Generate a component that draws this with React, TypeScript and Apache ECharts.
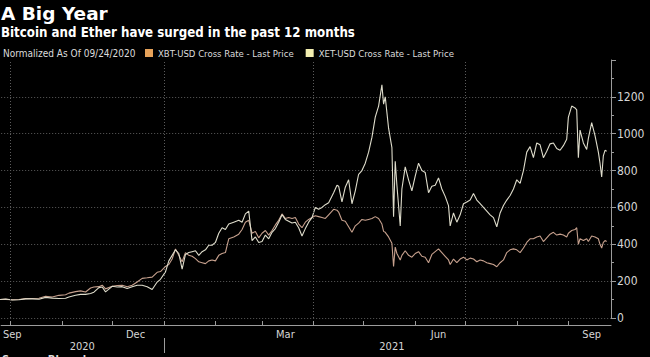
import React, { useEffect, useRef } from "react";
import * as echarts from "echarts";

const dates = [
  "2020-09-24","2020-09-28","2020-10-02","2020-10-06","2020-10-10","2020-10-14","2020-10-18","2020-10-22","2020-10-26","2020-10-30",
  "2020-11-03","2020-11-05","2020-11-09","2020-11-12","2020-11-15","2020-11-18","2020-11-20","2020-11-23","2020-11-25","2020-11-27",
  "2020-12-01","2020-12-04","2020-12-07","2020-12-10","2020-12-13","2020-12-16","2020-12-19","2020-12-22","2020-12-25","2020-12-28",
  "2020-12-30","2021-01-02","2021-01-04","2021-01-06","2021-01-08","2021-01-10","2021-01-12","2021-01-14","2021-01-16","2021-01-18",
  "2021-01-20","2021-01-22","2021-01-24","2021-01-26","2021-01-28","2021-01-30","2021-02-01","2021-02-03","2021-02-05","2021-02-07",
  "2021-02-09","2021-02-12","2021-02-15","2021-02-17","2021-02-19","2021-02-21","2021-02-23","2021-02-25","2021-02-27","2021-03-01",
  "2021-03-03","2021-03-05","2021-03-07","2021-03-09","2021-03-11","2021-03-13","2021-03-15","2021-03-17","2021-03-19","2021-03-21",
  "2021-03-23","2021-03-25","2021-03-27","2021-03-29","2021-03-31","2021-04-02","2021-04-04","2021-04-06","2021-04-08","2021-04-10",
  "2021-04-13","2021-04-15","2021-04-16","2021-04-18","2021-04-20","2021-04-22","2021-04-24","2021-04-26","2021-04-28","2021-04-30",
  "2021-05-02","2021-05-04","2021-05-06","2021-05-08","2021-05-10","2021-05-12","2021-05-13","2021-05-14","2021-05-16","2021-05-18",
  "2021-05-19","2021-05-20","2021-05-21","2021-05-23","2021-05-24","2021-05-26","2021-05-28","2021-05-30","2021-06-01","2021-06-03",
  "2021-06-05","2021-06-07","2021-06-09","2021-06-11","2021-06-13","2021-06-15","2021-06-17","2021-06-19","2021-06-21","2021-06-22",
  "2021-06-24","2021-06-26","2021-06-28","2021-06-30","2021-07-02","2021-07-04","2021-07-06","2021-07-08","2021-07-10","2021-07-12",
  "2021-07-14","2021-07-16","2021-07-18","2021-07-20","2021-07-22","2021-07-24","2021-07-26","2021-07-28","2021-07-30","2021-08-01",
  "2021-08-03","2021-08-05","2021-08-07","2021-08-09","2021-08-11","2021-08-13","2021-08-15","2021-08-17","2021-08-19","2021-08-21",
  "2021-08-23","2021-08-25","2021-08-27","2021-08-29","2021-08-31","2021-09-01","2021-09-03","2021-09-05","2021-09-06","2021-09-07",
  "2021-09-08","2021-09-10","2021-09-12","2021-09-13","2021-09-15","2021-09-17","2021-09-19","2021-09-20","2021-09-21","2021-09-22",
  "2021-09-23","2021-09-24",
];

// XBT-USD (Bitcoin), normalized to 100 on 09/24/2020
const xbt = [
  100,101,99,100,105,106,107,118,114,123,
  126,135,143,147,141,163,168,170,178,158,
  172,176,178,170,178,195,215,218,222,248,
  252,280,290,320,375,340,305,355,340,335,
  322,305,300,295,310,315,310,340,350,355,
  430,440,455,480,520,530,460,470,435,460,
  475,450,475,505,530,565,540,545,540,545,
  510,490,520,535,545,555,550,545,540,560,
  590,585,575,530,525,495,465,500,515,535,
  530,535,540,550,540,510,470,465,440,405,
  280,385,350,315,340,365,340,330,350,360,
  335,330,300,345,360,375,355,335,315,290,
  320,300,320,330,315,325,320,305,315,310,
  300,295,290,278,300,315,355,370,375,370,
  355,380,410,430,430,440,445,415,435,455,
  465,450,455,450,440,460,475,480,490,400,
  430,420,430,415,445,440,430,400,380,410,
  420,415,
];

// XET-USD (Ether), normalized to 100 on 09/24/2020
const xet = [
  100,103,98,99,104,104,102,112,108,106,
  107,114,123,128,128,133,140,165,168,142,
  172,168,170,160,170,178,178,170,155,195,
  210,250,310,340,370,350,265,345,355,360,
  365,340,360,370,395,395,410,460,490,480,
  510,520,530,520,565,580,420,440,410,415,
  450,430,465,485,520,560,535,525,515,520,
  490,445,485,520,545,600,590,600,615,625,
  680,720,715,630,710,750,620,690,780,800,
  840,900,980,1090,1150,1265,1160,1200,1030,925,
  550,850,720,500,700,820,750,690,770,840,
  800,790,680,715,720,760,700,660,610,500,
  570,520,560,620,630,640,675,640,620,600,
  580,560,545,495,570,610,640,665,700,750,
  730,800,900,930,870,950,940,870,905,945,
  950,920,910,935,970,1090,1150,1140,1130,870,
  1020,950,915,975,1060,990,900,840,765,880,
  910,905,
];

const seriesNames = ["XBT-USD Cross Rate - Last Price", "XET-USD Cross Rate - Last Price"];
const monthLabels = ["Sep", "Dec", "Mar", "Jun", "Sep"];
const monthLabelDates = ["2020-09-26", "2020-12-15", "2021-03-15", "2021-06-15", "2021-09-15"];
const monthTickDates = [
  "2020-10-01","2020-11-01","2020-12-01","2021-01-01","2021-02-01","2021-03-01",
  "2021-04-01","2021-05-01","2021-06-01","2021-07-01","2021-08-01","2021-09-01",
];
const quarterDates = ["2020-10-01", "2021-01-01", "2021-04-01", "2021-07-01"];
const yearLabels = ["2020", "2021"];
const yearLabelDates = ["2020-11-13", "2021-05-18"];
const yearSeparatorDates = ["2021-01-01"];

const DAY = 86400000;
const ts = (s: string) => {
  const [y, m, d] = s.split("-").map(Number);
  return Date.UTC(y, m - 1, d);
};

const FONT = "'DejaVu Sans Condensed', 'DejaVu Sans', sans-serif";
const WIDE_FONT = "'DejaVu Sans', sans-serif";
const AXIS_COLOR = "#9c9c9c";
const LABEL_COLOR = "#d6d6d6";
const GRID_COLOR = "#5c5c5c";

export default function App() {
  const ref = useRef<HTMLDivElement>(null);

  useEffect(() => {
    if (!ref.current) return;
    const chart = echarts.init(ref.current, null, { renderer: "svg" });
    const n = Math.min(dates.length, xbt.length, xet.length);
    const btcData = dates.slice(0, n).map((d, i) => [ts(d), xbt[i]]);
    const ethData = dates.slice(0, n).map((d, i) => [ts(d), xet[i]]);
    const xMin = ts("2020-09-25") + 0.3 * DAY;
    const xMax = ts("2021-09-26") + 0.6 * DAY;
    const monthLabelTs = monthLabelDates.map(ts);
    const yearLabelTs = yearLabelDates.map(ts);

    chart.setOption({
      animation: false,
      backgroundColor: "#000",
      grid: { left: 0, right: 39, top: 60, bottom: 39, containLabel: false },
      graphic: [
        {
          type: "text",
          left: 1,
          top: 4,
          style: { text: "A Big Year", fill: "#fff", font: `bold 18.5px ${WIDE_FONT}` },
        },
        {
          type: "text",
          left: 1,
          top: 25.5,
          style: {
            text: "Bitcoin and Ether have surged in the past 12 months",
            fill: "#fff",
            font: `bold 13.2px ${FONT}`,
          },
        },
        {
          type: "text",
          left: 3,
          top: 48,
          style: { text: "Normalized As Of 09/24/2020", fill: "#dcdcdc", font: `10px ${FONT}` },
        },
        {
          type: "text",
          left: 2,
          top: 354,
          style: { text: "Source: Bloomberg", fill: "#dcdcdc", font: `bold 11px ${FONT}` },
        },
      ],
      legend: {
        left: 145,
        top: 48,
        padding: 0,
        itemWidth: 8,
        itemHeight: 8,
        itemGap: 12,
        icon: "rect",
        selectedMode: false,
        textStyle: { color: "#dcdcdc", fontSize: 9.5, fontFamily: FONT },
        data: [
          { name: seriesNames[0], itemStyle: { color: "#e6a25a" } },
          { name: seriesNames[1], itemStyle: { color: "#f2eeb0" } },
        ],
      },
      xAxis: [
        {
          type: "value",
          min: xMin,
          max: xMax,
          offset: 7,
          axisLine: { show: true, onZero: false, lineStyle: { color: AXIS_COLOR, width: 1 } },
          axisTick: {
            show: true,
            inside: true,
            length: 4,
            customValues: monthTickDates.map(ts),
            lineStyle: { color: AXIS_COLOR },
          },
          axisLabel: {
            show: true,
            customValues: monthLabelTs,
            margin: 4,
            color: LABEL_COLOR,
            fontSize: 11,
            fontFamily: FONT,
            formatter: (v: number) => {
              const i = monthLabelTs.indexOf(v);
              const t = i >= 0 ? monthLabels[i] : "";
              return i === 0 ? `{first|${t}}` : t;
            },
            rich: {
              first: { color: LABEL_COLOR, fontSize: 11, fontFamily: FONT, padding: [0, 0, 0, 20] },
            },
          },
          splitLine: { show: false },
        },
        {
          type: "value",
          min: xMin,
          max: xMax,
          position: "bottom",
          offset: 20,
          axisLine: { show: false, onZero: false },
          axisTick: {
            show: true,
            length: 15,
            customValues: yearSeparatorDates.map(ts),
            lineStyle: { color: AXIS_COLOR },
          },
          axisLabel: {
            show: true,
            customValues: yearLabelTs,
            margin: 3,
            color: LABEL_COLOR,
            fontSize: 11,
            fontFamily: FONT,
            formatter: (v: number) => {
              const i = yearLabelTs.indexOf(v);
              return i >= 0 ? yearLabels[i] : "";
            },
          },
          splitLine: { show: false },
        },
      ],
      yAxis: {
        type: "value",
        position: "right",
        min: 0,
        max: 1400,
        interval: 200,
        axisLine: { show: true, lineStyle: { color: AXIS_COLOR } },
        axisTick: { show: true, length: 5, lineStyle: { color: AXIS_COLOR } },
        minorTick: { show: true, splitNumber: 2, length: 3, lineStyle: { color: AXIS_COLOR } },
        axisLabel: {
          margin: 6,
          color: LABEL_COLOR,
          fontSize: 12,
          fontFamily: FONT,
          formatter: (v: number) => (v >= 1400 ? "" : String(v)),
        },
        splitLine: {
          show: true,
          showMinLine: true,
          showMaxLine: false,
          lineStyle: { color: GRID_COLOR, type: [1, 2], width: 1 },
        },
      },
      series: [
        {
          name: seriesNames[0],
          type: "line",
          data: btcData,
          showSymbol: false,
          symbol: "none",
          lineStyle: { color: "#c6a08d", width: 1.1 },
          itemStyle: { color: "#c6a08d" },
          z: 3,
          markLine: {
            silent: true,
            symbol: "none",
            label: { show: false },
            lineStyle: { color: GRID_COLOR, type: [1, 2], width: 1 },
            data: quarterDates.map((d) => ({ xAxis: ts(d) })),
          },
        },
        {
          name: seriesNames[1],
          type: "line",
          data: ethData,
          showSymbol: false,
          symbol: "none",
          lineStyle: { color: "#dedccb", width: 1.1 },
          itemStyle: { color: "#dedccb" },
          z: 4,
        },
      ],
    });
    return () => chart.dispose();
  }, []);

  return (
    <div
      ref={ref}
      style={{ position: "fixed", left: 0, top: 0, width: 650, height: 357, background: "#000" }}
    />
  );
}
